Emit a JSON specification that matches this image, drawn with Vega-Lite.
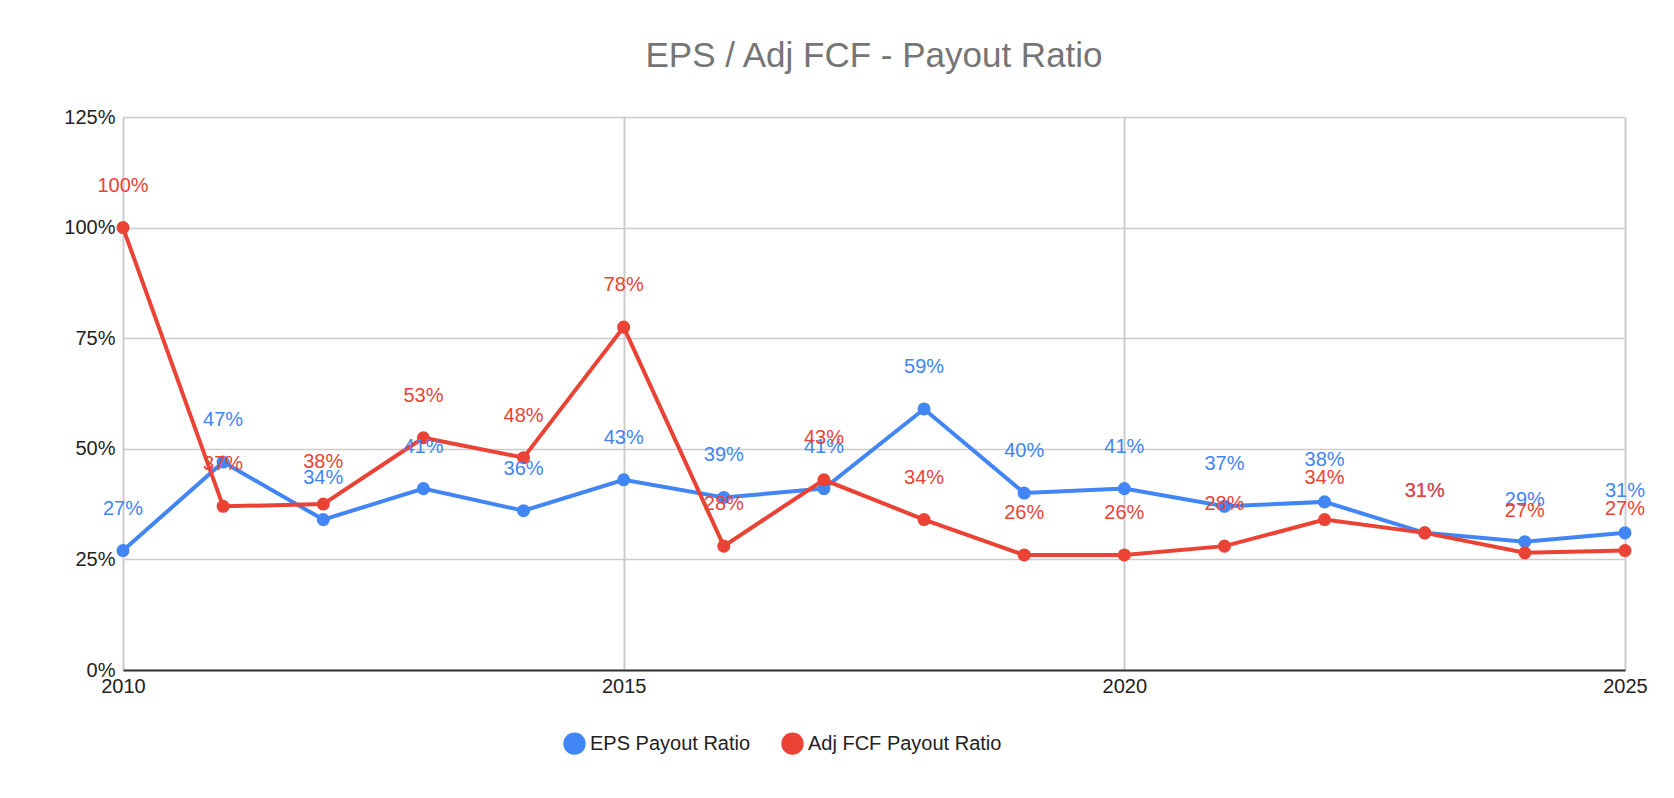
{
  "$schema": "https://vega.github.io/schema/vega-lite/v6.json",
  "width": 1502,
  "height": 553,
  "autosize": "none",
  "padding": {"left": 123, "top": 117, "right": 49, "bottom": 128},
  "background": "white",
  "config": {
    "font": "Liberation Sans",
    "view": {"stroke": null}
  },
  "title": {
    "text": "EPS / Adj FCF - Payout Ratio",
    "fontSize": 35,
    "fontWeight": "normal",
    "color": "#757575",
    "anchor": "middle",
    "offset": 33
  },
  "data": {
    "values": [
      {"year": 2010, "series": "EPS Payout Ratio", "value": 0.27},
      {"year": 2011, "series": "EPS Payout Ratio", "value": 0.47},
      {"year": 2012, "series": "EPS Payout Ratio", "value": 0.34},
      {"year": 2013, "series": "EPS Payout Ratio", "value": 0.41},
      {"year": 2014, "series": "EPS Payout Ratio", "value": 0.36},
      {"year": 2015, "series": "EPS Payout Ratio", "value": 0.43},
      {"year": 2016, "series": "EPS Payout Ratio", "value": 0.39},
      {"year": 2017, "series": "EPS Payout Ratio", "value": 0.41},
      {"year": 2018, "series": "EPS Payout Ratio", "value": 0.59},
      {"year": 2019, "series": "EPS Payout Ratio", "value": 0.40},
      {"year": 2020, "series": "EPS Payout Ratio", "value": 0.41},
      {"year": 2021, "series": "EPS Payout Ratio", "value": 0.37},
      {"year": 2022, "series": "EPS Payout Ratio", "value": 0.38},
      {"year": 2023, "series": "EPS Payout Ratio", "value": 0.31},
      {"year": 2024, "series": "EPS Payout Ratio", "value": 0.29},
      {"year": 2025, "series": "EPS Payout Ratio", "value": 0.31},
      {"year": 2010, "series": "Adj FCF Payout Ratio", "value": 1.00},
      {"year": 2011, "series": "Adj FCF Payout Ratio", "value": 0.37},
      {"year": 2012, "series": "Adj FCF Payout Ratio", "value": 0.375},
      {"year": 2013, "series": "Adj FCF Payout Ratio", "value": 0.525},
      {"year": 2014, "series": "Adj FCF Payout Ratio", "value": 0.48},
      {"year": 2015, "series": "Adj FCF Payout Ratio", "value": 0.775},
      {"year": 2016, "series": "Adj FCF Payout Ratio", "value": 0.28},
      {"year": 2017, "series": "Adj FCF Payout Ratio", "value": 0.43},
      {"year": 2018, "series": "Adj FCF Payout Ratio", "value": 0.34},
      {"year": 2019, "series": "Adj FCF Payout Ratio", "value": 0.26},
      {"year": 2020, "series": "Adj FCF Payout Ratio", "value": 0.26},
      {"year": 2021, "series": "Adj FCF Payout Ratio", "value": 0.28},
      {"year": 2022, "series": "Adj FCF Payout Ratio", "value": 0.34},
      {"year": 2023, "series": "Adj FCF Payout Ratio", "value": 0.31},
      {"year": 2024, "series": "Adj FCF Payout Ratio", "value": 0.265},
      {"year": 2025, "series": "Adj FCF Payout Ratio", "value": 0.27}
    ]
  },
  "encoding": {
    "x": {
      "field": "year",
      "type": "quantitative",
      "scale": {"domain": [2010, 2025], "nice": false},
      "axis": {
        "title": null,
        "values": [2010, 2015, 2020, 2025],
        "format": "d",
        "labelFontSize": 20,
        "labelColor": "#222",
        "labelPadding": 6,
        "labelFlush": false,
        "domainColor": "#333",
        "domainWidth": 2,
        "ticks": false,
        "grid": true,
        "gridColor": "#ccc",
        "gridWidth": 2
      }
    },
    "y": {
      "field": "value",
      "type": "quantitative",
      "scale": {"domain": [0, 1.25], "nice": false},
      "axis": {
        "title": null,
        "values": [0, 0.25, 0.5, 0.75, 1, 1.25],
        "format": ".0%",
        "labelFontSize": 20,
        "labelColor": "#222",
        "labelPadding": 8,
        "domain": false,
        "ticks": false,
        "gridColor": "#ccc",
        "gridWidth": 1.5
      }
    },
    "color": {
      "field": "series",
      "type": "nominal",
      "sort": ["EPS Payout Ratio", "Adj FCF Payout Ratio"],
      "scale": {
        "domain": ["EPS Payout Ratio", "Adj FCF Payout Ratio"],
        "range": ["#4285F4", "#EA4335"]
      },
      "legend": {
        "title": null,
        "orient": "none",
        "direction": "horizontal",
        "legendX": 440,
        "legendY": 615,
        "symbolType": "circle",
        "symbolSize": 500,
        "symbolStrokeWidth": 0,
        "labelFontSize": 20,
        "labelColor": "#222",
        "labelLimit": 400,
        "columnPadding": 30
      }
    }
  },
  "layer": [
    {"mark": {"type": "line", "strokeWidth": 4}},
    {"mark": {"type": "point", "filled": true, "size": 170, "opacity": 1}},
    {
      "mark": {"type": "text", "dy": -42, "fontSize": 20},
      "encoding": {"text": {"field": "value", "type": "quantitative", "format": ".0%"}}
    }
  ]
}
